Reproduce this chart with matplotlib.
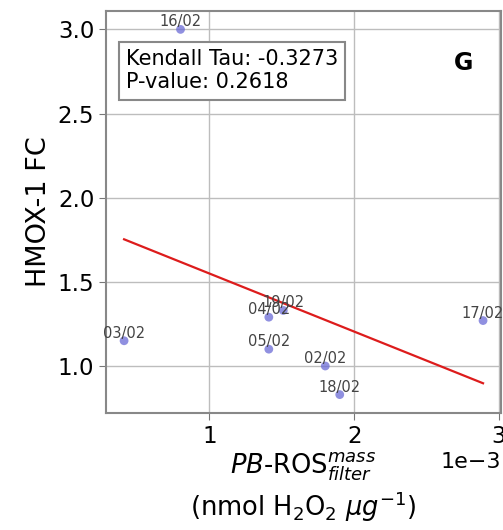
import numpy as np
import matplotlib
matplotlib.use("Agg")
import matplotlib.pyplot as plt

labels = ["16/02", "03/02", "04/02", "19/02", "05/02", "02/02", "18/02", "17/02"]
ros = np.array([0.80, 0.41, 1.41, 1.51, 1.41, 1.80, 1.90, 2.89]) * 1e-3
hmox = np.array([3.00, 1.15, 1.29, 1.33, 1.10, 1.00, 0.83, 1.27])
tau_text = "Kendall Tau: -0.3273\nP-value: 0.2618"
panel = "G"

fig = plt.figure(figsize=(5.03, 5.30), dpi=100)
ax = fig.add_axes([0.211, 0.221, 0.785, 0.758])

ax.scatter(ros, hmox, s=40, color="#6b6bd6", alpha=0.75, zorder=3, edgecolors="none")
for lab, xv, yv in zip(labels, ros, hmox):
    ax.text(xv, yv, lab, fontsize=10.5, ha="center", va="bottom", color="#444444", zorder=4)

coef = np.polyfit(ros, hmox, 1)
xs = np.array([ros.min(), ros.max()])
ax.plot(xs, np.polyval(coef, xs), color="#dd1c1c", lw=1.6, zorder=2)

ax.set_xticks([1e-3, 2e-3, 3e-3])
ax.set_yticks([1.0, 1.5, 2.0, 2.5, 3.0])
ax.ticklabel_format(axis="x", style="sci", scilimits=(0, 0))
ax.xaxis.get_offset_text().set_fontsize(16)
ax.tick_params(labelsize=16.5, length=5, color="#777777")
ax.grid(True, color="#bdbdbd", lw=1.0)
ax.set_axisbelow(True)
for sp in ax.spines.values():
    sp.set_color("#888888")
    sp.set_linewidth(1.5)

ax.set_ylabel("HMOX-1 FC", fontsize=19.5)
ax.set_xlabel("$\\mathit{PB}$-ROS$_{filter}^{mass}$\n(nmol H$_2$O$_2$ $\\mu g^{-1}$)",
              fontsize=18.5, linespacing=1.25, labelpad=2)

ax.text(0.05, 0.905, tau_text, transform=ax.transAxes, fontsize=15, va="top", ha="left",
        bbox=dict(boxstyle="square,pad=0.35", facecolor="white", edgecolor="#888888", lw=1.5), zorder=5)
ax.text(0.905, 0.87, panel, transform=ax.transAxes, fontsize=17, fontweight="bold", ha="center", va="center")

fig.savefig("out.png", dpi=100)
